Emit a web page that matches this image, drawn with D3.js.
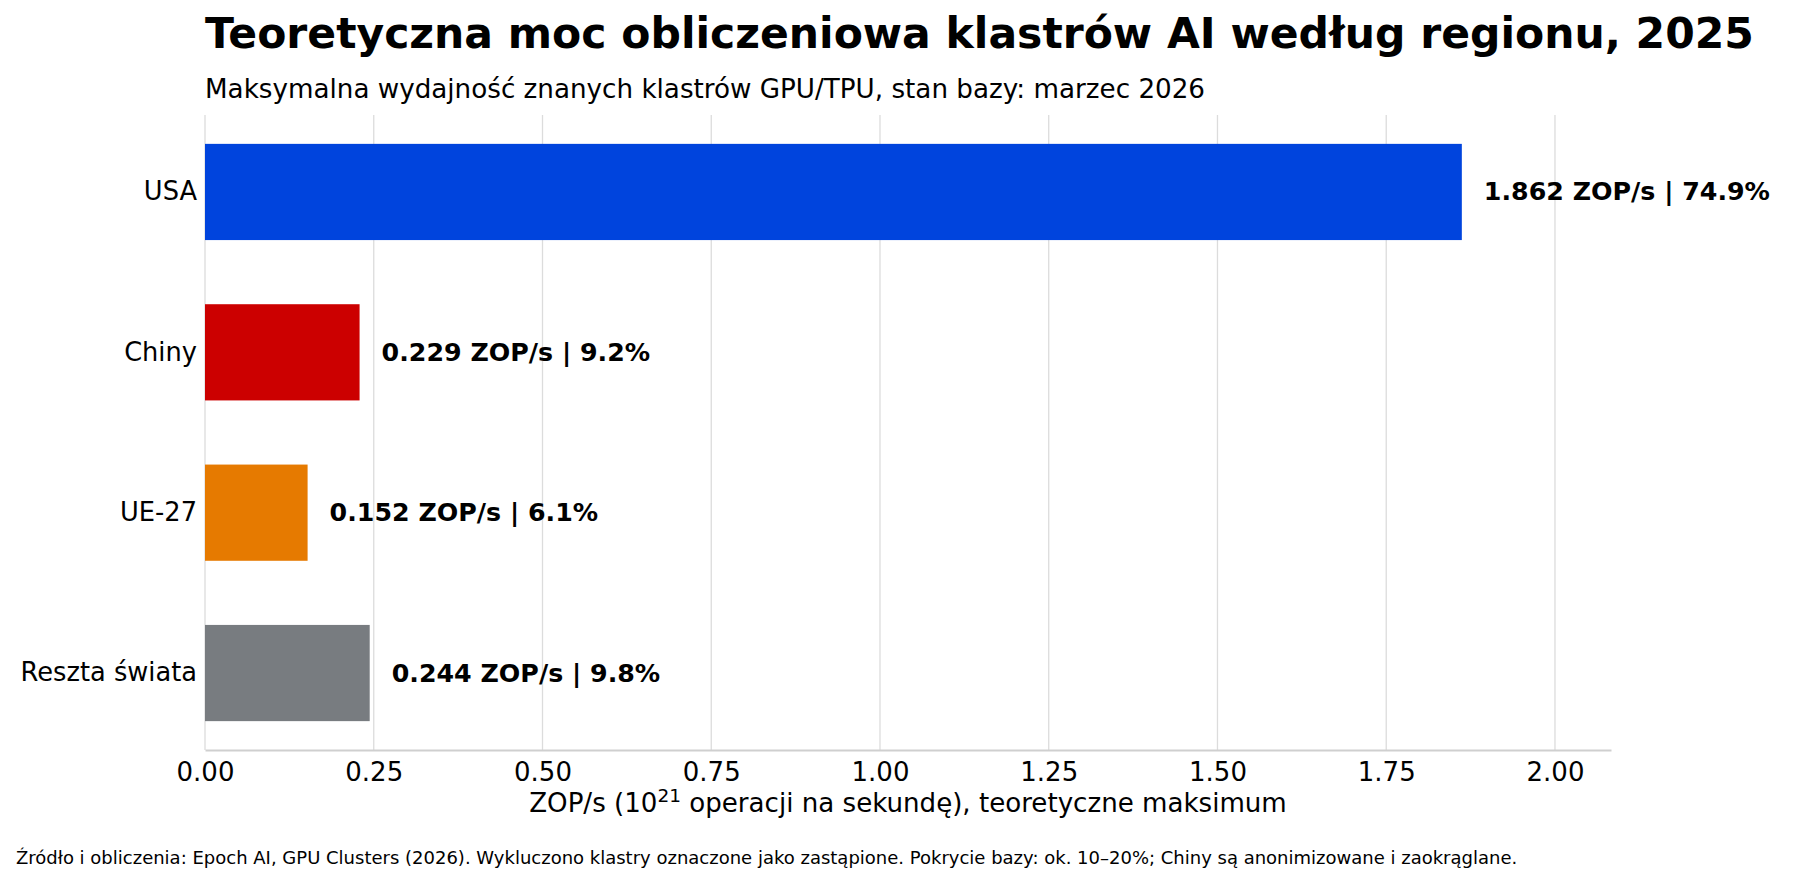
<!DOCTYPE html>
<html>
<head>
<meta charset="utf-8">
<script src="https://cdn.jsdelivr.net/npm/d3@7"></script>
<style>
  html, body { margin: 0; padding: 0; background: #ffffff; }
  svg { display: block; font-family: "DejaVu Sans", sans-serif; }
</style>
</head>
<body>
<svg id="chart" width="1798" height="875"></svg>
<script>
const regions = ["USA", "Chiny", "UE-27", "Reszta świata"];
const values = [1.862, 0.229, 0.152, 0.244];
const shares = [74.9, 9.2, 6.1, 9.8];
const barColors = ["#0044DD", "#CC0000", "#E67A00", "#787C80"];
const xTicks = [0, 0.25, 0.5, 0.75, 1.0, 1.25, 1.5, 1.75, 2.0];
const xMax = 2.083;

const titleText = "Teoretyczna moc obliczeniowa klastrów AI według regionu, 2025";
const subtitleText = "Maksymalna wydajność znanych klastrów GPU/TPU, stan bazy: marzec 2026";
const footnoteText = "Źródło i obliczenia: Epoch AI, GPU Clusters (2026). Wykluczono klastry oznaczone jako zastąpione. Pokrycie bazy: ok. 10–20%; Chiny są anonimizowane i zaokrąglane.";

const svg = d3.select("#chart");
const plot = { left: 205, right: 1611, top: 115, bottom: 750 };

const x = d3.scaleLinear().domain([0, xMax]).range([plot.left, plot.right]);
const y = d3.scaleBand().domain(regions).range([plot.top, plot.bottom])
  .paddingInner(0.4).paddingOuter(0.18);

// gridlines
svg.append("g").selectAll("line").data(xTicks).join("line")
  .attr("x1", d => x(d)).attr("x2", d => x(d))
  .attr("y1", plot.top).attr("y2", plot.bottom)
  .attr("stroke", "#dcdcdc").attr("stroke-width", 1.3);

// bars
svg.append("g").selectAll("rect").data(regions).join("rect")
  .attr("x", x(0))
  .attr("y", d => y(d))
  .attr("width", (d, i) => x(values[i]) - x(0))
  .attr("height", y.bandwidth())
  .attr("fill", (d, i) => barColors[i]);

// bottom axis
const xAxis = d3.axisBottom(x).tickValues(xTicks).tickFormat(d3.format(".2f")).tickSize(0).tickPadding(13);
const gx = svg.append("g").attr("transform", `translate(0,${plot.bottom})`).call(xAxis);
gx.select(".domain").attr("stroke", "#cfcfcf").attr("stroke-width", 2);
gx.selectAll("text").attr("font-size", 26).attr("fill", "#000")
  .attr("font-family", "DejaVu Sans");

// left axis labels
const yAxis = d3.axisLeft(y).tickSize(0).tickPadding(8);
const gy = svg.append("g").attr("transform", `translate(${plot.left},0)`).call(yAxis);
gy.select(".domain").remove();
gy.selectAll("text").attr("font-size", 25.7).attr("fill", "#000")
  .attr("font-family", "DejaVu Sans");

// value labels
svg.append("g").selectAll("text").data(regions).join("text")
  .attr("x", (d, i) => x(values[i]) + 22)
  .attr("y", d => y(d) + y.bandwidth() / 2)
  .attr("dominant-baseline", "central")
  .attr("font-size", 25.3).attr("font-weight", "bold").attr("fill", "#000")
  .text((d, i) => `${values[i].toFixed(3)} ZOP/s | ${shares[i].toFixed(1)}%`);

// title & subtitle
svg.append("text").attr("x", 205).attr("y", 48)
  .attr("font-size", 42.5).attr("font-weight", "bold").attr("fill", "#000")
  .text(titleText);
svg.append("text").attr("x", 205).attr("y", 98)
  .attr("font-size", 26.2).attr("fill", "#000")
  .text(subtitleText);

// x axis label with superscript
const xl = svg.append("text").attr("x", (plot.left + plot.right) / 2).attr("y", 812)
  .attr("text-anchor", "middle").attr("font-size", 26.1).attr("fill", "#000");
xl.append("tspan").text("ZOP/s (10");
xl.append("tspan").attr("dy", -10).attr("font-size", 18.5).text("21");
xl.append("tspan").attr("dy", 10).text(" operacji na sekundę), teoretyczne maksimum");

// footnote
svg.append("text").attr("x", 16).attr("y", 864)
  .attr("font-size", 18).attr("fill", "#000")
  .text(footnoteText);
</script>
</body>
</html>
